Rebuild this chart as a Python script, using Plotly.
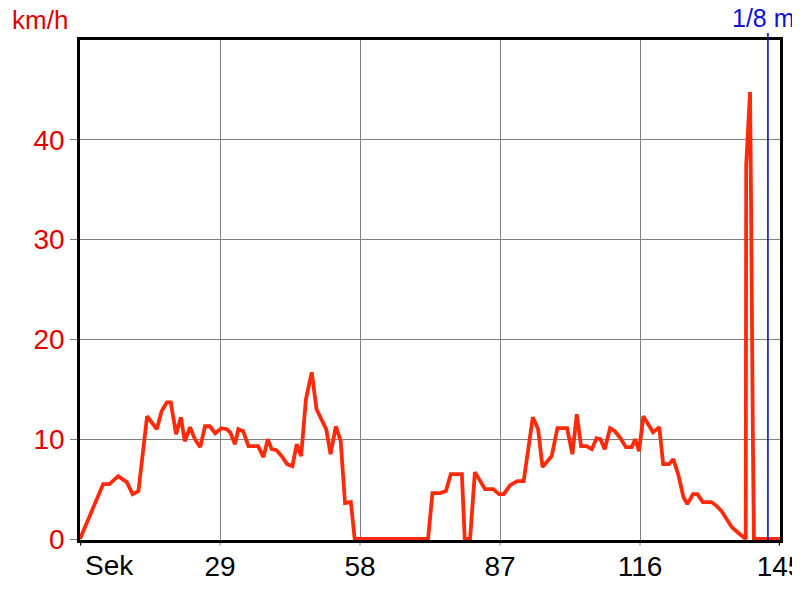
import plotly.graph_objects as go

# Data
seconds = [0, 4.8, 6.1, 7.9, 9.7, 10.9, 12.1, 12.8, 13.9, 15.9,
           16.9, 18.0, 18.8, 19.9, 20.9, 21.7, 22.8, 23.8, 24.9, 25.9,
           26.9, 28.0, 29.3, 30.4, 31.1, 32.1, 32.8, 33.8, 34.9, 36.9,
           38.0, 38.9, 39.7, 40.7, 41.8, 42.9, 44.0, 44.9, 45.8, 46.8,
           48.0, 49.0, 50.1, 51.0, 51.9, 53.0, 54.0, 54.9, 56.1, 56.9,
           72.1, 73.0, 74.6, 75.8, 76.8, 79.1, 79.7, 80.8, 81.8, 83.9,
           85.6, 86.8, 87.8, 89.1, 90.6, 91.9, 93.8, 94.9, 95.8, 97.7,
           98.9, 100.9, 102.0, 102.9, 103.8, 104.9, 106.0, 107.0, 107.8, 108.7,
           109.8, 110.8, 111.8, 113.1, 114.3, 115.0, 115.8, 116.7, 117.7, 118.7,
           120.0, 120.8, 122.0, 122.9, 123.9, 125.0, 125.8, 127.0, 127.9, 129.0,
           130.8, 131.9, 132.9, 133.9, 135.0, 136.4, 137.9, 138.0, 138.8, 139.0,
           139.2, 139.4, 139.6, 145]
speed_kmh = [0, 5.5, 5.5, 6.3, 5.7, 4.5, 4.8, 7.5, 12.3, 11.0,
             12.8, 13.7, 13.7, 10.5, 12.2, 9.8, 11.2, 10.0, 9.2, 11.3,
             11.3, 10.6, 11.1, 11.0, 10.7, 9.5, 11.0, 10.8, 9.3, 9.3,
             8.2, 10.0, 9.0, 8.9, 8.3, 7.5, 7.3, 9.5, 8.3, 14.0,
             16.7, 13.0, 12.0, 11.0, 8.5, 11.3, 9.8, 3.6, 3.7, 0,
             0, 4.6, 4.6, 4.8, 6.5, 6.5, 0, 0, 6.7, 5.0,
             5.0, 4.5, 4.5, 5.4, 5.8, 5.8, 12.2, 11.0, 7.2, 8.3,
             11.1, 11.1, 8.5, 12.5, 9.3, 9.3, 9.0, 10.1, 10.0, 9.0,
             11.1, 10.8, 10.2, 9.2, 9.2, 10.0, 8.8, 12.3, 11.5, 10.7,
             11.2, 7.5, 7.5, 8.0, 6.5, 4.2, 3.5, 4.5, 4.5, 3.7,
             3.7, 3.3, 2.8, 2.0, 1.2, 0.6, 0, 37.5, 44.8, 34.0,
             17.0, 9.0, 0, 0]

x_ticks = [0, 29, 58, 87, 116, 145]
x_tick_labels = ["", "29", "58", "87", "116", "145"]
y_ticks = [0, 10, 20, 30, 40]
marker_time = 142.5
marker_label = "1/8 m"
x_unit = "Sek"
y_unit = "km/h"

FONT = "Arial, Liberation Sans, sans-serif"
RED = "#E00000"
BLUE = "#1010D8"

fig = go.Figure()
fig.add_trace(go.Scatter(
    x=seconds, y=speed_kmh, mode="lines",
    line=dict(color="#FF2A0A", width=3.8),
    hoverinfo="skip", showlegend=False,
))

# small gray tick stubs below the x axis, continuing the gridlines
for xv in x_ticks:
    fig.add_shape(type="line", xref="x", yref="paper",
                  x0=xv, x1=xv, y0=0, y1=-0.011,
                  line=dict(color="#808080" if 0 < xv < 145 else "black",
                            width=1 if 0 < xv < 145 else 2.5),
                  layer="below")

fig.add_shape(type="line", xref="x", yref="paper",
              x0=marker_time, x1=marker_time, y0=0, y1=1.014,
              line=dict(color="#0000B0", width=1.5), layer="above")

fig.add_annotation(x=marker_time, xref="x", y=1.045, yref="paper",
                   text=marker_label, showarrow=False, xanchor="center",
                   yanchor="middle", xshift=-4,
                   font=dict(family=FONT, size=25, color=BLUE))
fig.add_annotation(x=-0.015, xref="paper", y=1.04, yref="paper",
                   text=y_unit, showarrow=False, xanchor="right",
                   yanchor="middle",
                   font=dict(family=FONT, size=26, color=RED))
fig.add_annotation(x=0, xref="x", y=-0.05, yref="paper",
                   text=x_unit, showarrow=False, xanchor="left",
                   yanchor="middle", xshift=3,
                   font=dict(family=FONT, size=28, color="black"))

# The page body has an 8px default margin, so the figure is sized and
# offset to place the plot area at the reference position in the window.
fig.update_layout(
    width=792, height=592,
    margin=dict(l=72, r=20, t=32, b=60, pad=0, autoexpand=False),
    paper_bgcolor="white", plot_bgcolor="white",
    font=dict(family=FONT, size=28),
    xaxis=dict(
        range=[0, 145], tickvals=x_ticks, ticktext=x_tick_labels,
        showgrid=True, gridcolor="#808080", gridwidth=1,
        showline=True, linecolor="black", linewidth=2.5, mirror=True,
        ticks="", ticklabeloverflow="allow",
        tickfont=dict(family=FONT, size=28, color="black"),
        zeroline=False, layer="below traces", fixedrange=True,
        automargin=False,
    ),
    yaxis=dict(
        range=[-0.1, 50], tickvals=y_ticks,
        showgrid=True, gridcolor="#808080", gridwidth=1,
        showline=True, linecolor="black", linewidth=2.5, mirror=True,
        ticks="outside", ticklen=7, tickcolor="#808080", tickwidth=1,
        tickfont=dict(family=FONT, size=28, color=RED),
        zeroline=False, layer="below traces", fixedrange=True,
        automargin=False,
    ),
)

fig.write_html("out.html")
